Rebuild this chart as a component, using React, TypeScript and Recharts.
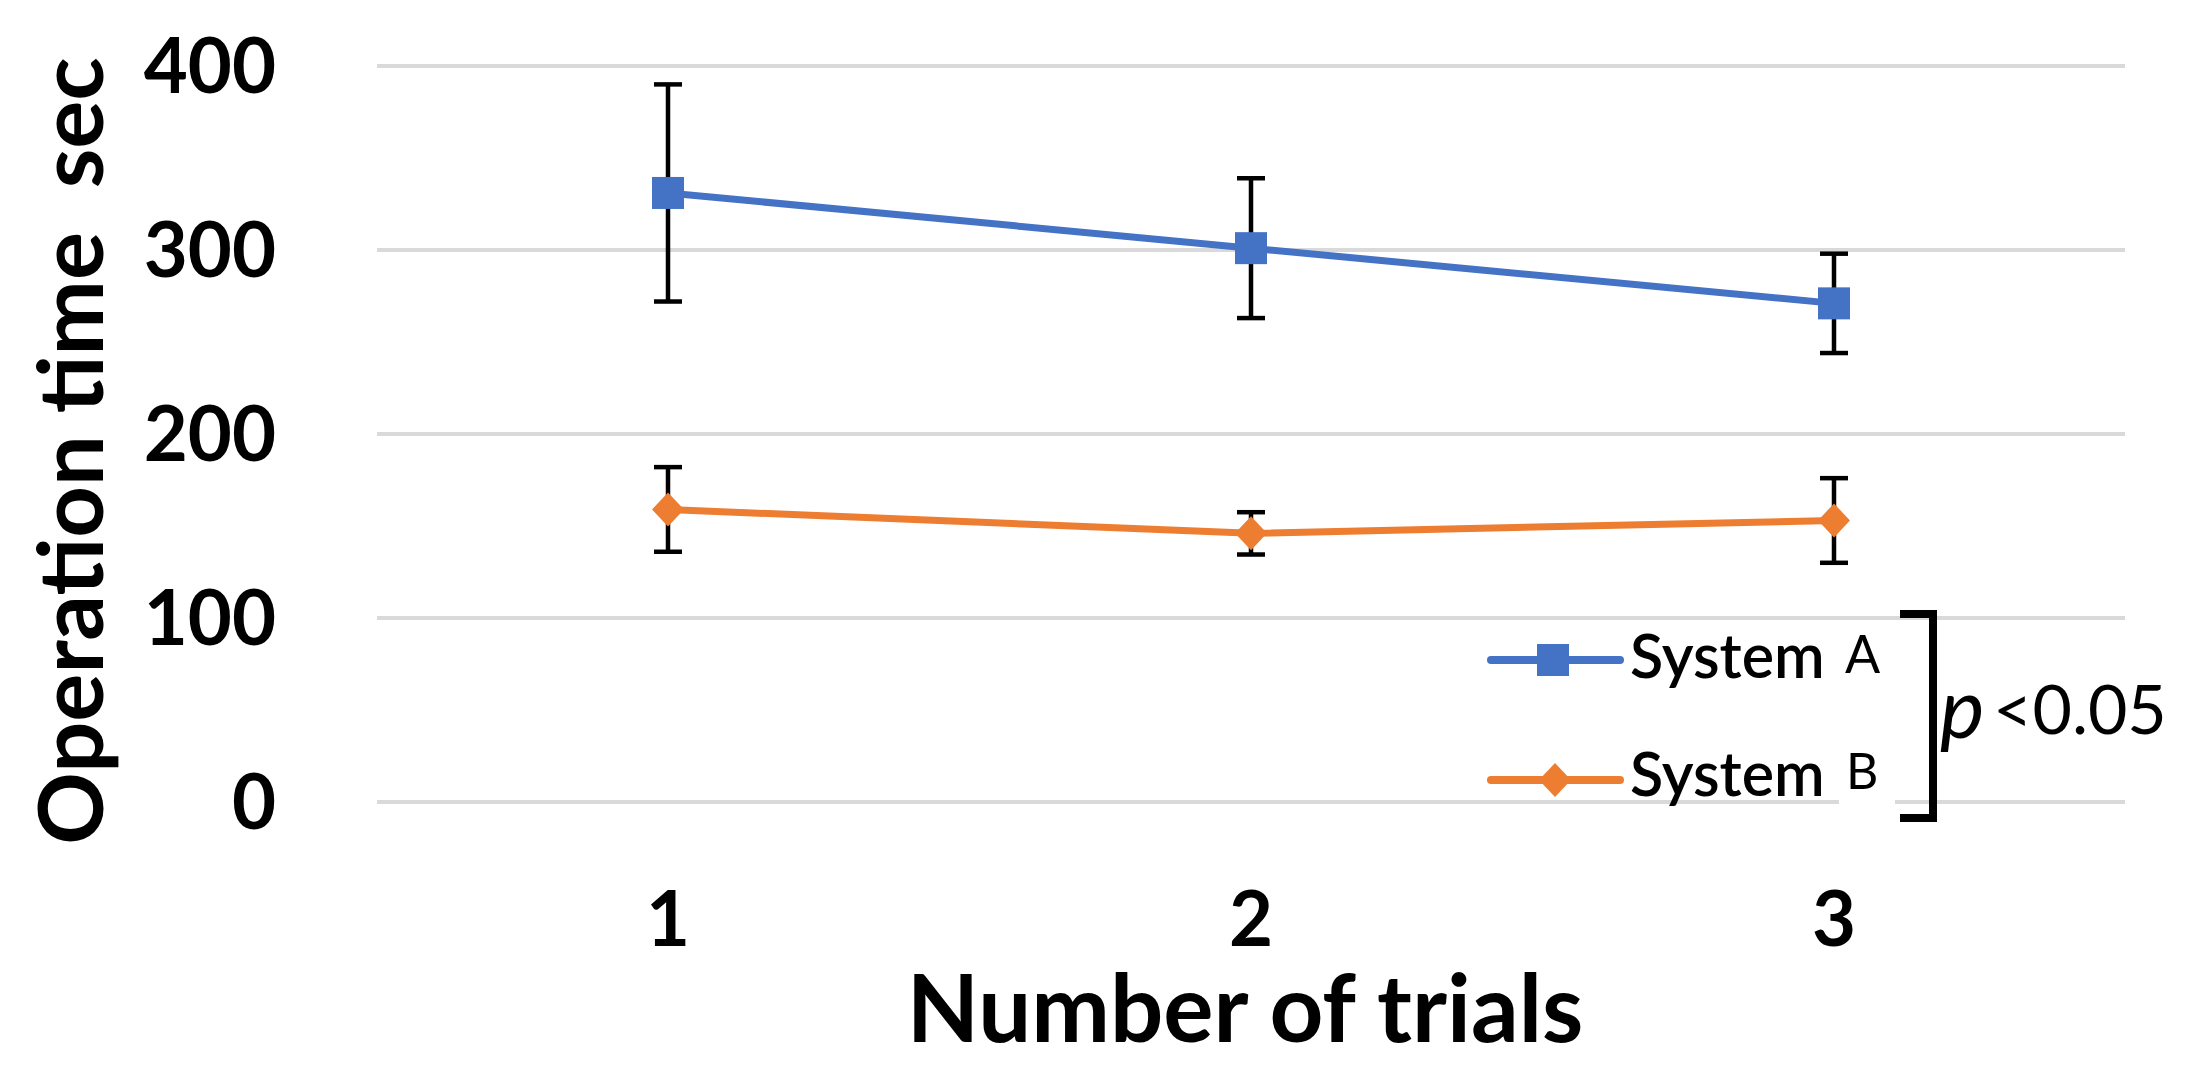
import React from 'react';
import { LineChart, Line, XAxis, YAxis, CartesianGrid, ErrorBar, Legend, Label } from 'recharts';

const trials = ['1', '2', '3'];
const systemA = [331, 301, 271];
const systemAErr = [59, 38, 27];
const systemB = [159, 146, 153];
const systemBErr = [23, 11.5, 23];
const yTicks = [0, 100, 200, 300, 400];

const BLUE = '#4472C4';
const ORANGE = '#ED7D31';
const FONT = 'Lato, "Open Sans", sans-serif';

const data = trials.map((t, i) => ({
  trial: t,
  a: systemA[i],
  aErr: systemAErr[i],
  b: systemB[i],
  bErr: systemBErr[i],
}));

const SquareDot = (props: any) => {
  const { cx, cy, index } = props;
  if (cx == null || cy == null) return null;
  return <rect key={`sq-${index}`} x={cx - 16} y={cy - 16} width={32} height={32} fill={BLUE} />;
};

const DiamondDot = (props: any) => {
  const { cx, cy, index } = props;
  if (cx == null || cy == null) return null;
  return (
    <polygon
      key={`dm-${index}`}
      points={`${cx},${cy - 17} ${cx + 16},${cy} ${cx},${cy + 17} ${cx - 16},${cy}`}
      fill={ORANGE}
    />
  );
};

// legend plus the significance bracket, drawn in one overlay
const LegendBox = () => (
  <svg width={720} height={240} style={{ overflow: 'visible', display: 'block' }}>
    <rect x={369} y={165} width={56} height={50} fill="#fff" />
    <line x1={21} y1={60} x2={150} y2={60} stroke={BLUE} strokeWidth={8} strokeLinecap="round" />
    <rect x={67} y={44} width={32} height={32} fill={BLUE} />
    <text x={160} y={78} fontFamily={FONT} fontSize={61} fontWeight={600} fill="#000">System</text>
    <text x={375} y={73} fontFamily={FONT} fontSize={52} fill="#000">A</text>

    <line x1={21} y1={180} x2={150} y2={180} stroke={ORANGE} strokeWidth={8} strokeLinecap="round" />
    <polygon points="85,163 101,180 85,197 69,180" fill={ORANGE} />
    <text x={160} y={196} fontFamily={FONT} fontSize={61} fontWeight={600} fill="#000">System</text>
    <text x={376} y={189} fontFamily={FONT} fontSize={50} fill="#000">B</text>

    <path d="M 430 14 H 463 V 218 H 430" fill="none" stroke="#000" strokeWidth={8} />
    <text x={470} y={138} fontFamily={FONT} fontSize={84} fontStyle="italic" fill="#000">p</text>
    <text x={523} y={134} fontFamily={FONT} fontSize={68} fill="#000">&lt;0.05</text>
  </svg>
);

const YTitle = (props: any) => {
  const vb = props.viewBox;
  const x = vb.x + 68;
  const y = vb.y + vb.height / 2 + 17;
  return (
    <text
      x={x}
      y={y}
      transform={`rotate(-90, ${x}, ${y})`}
      textAnchor="middle"
      dominantBaseline="central"
      fontFamily={FONT}
      fontWeight={700}
      fontSize={90}
      fill="#000"
      style={{ whiteSpace: 'pre' }}
    >
      {'Operation time  sec'}
    </text>
  );
};

const XTitle = (props: any) => {
  const vb = props.viewBox;
  return (
    <text
      x={vb.x + vb.width / 2 - 6}
      y={1042}
      textAnchor="middle"
      fontFamily={FONT}
      fontWeight={700}
      fontSize={94}
      fill="#000"
    >
      Number of trials
    </text>
  );
};

export default function App() {
  return (
    <div style={{ position: 'absolute', left: 0, top: 0, width: 2192, height: 1079, background: '#fff' }}>
      <LineChart width={2192} height={1079} data={data} margin={{ top: 66, right: 67, left: 0, bottom: 0 }}>
        <CartesianGrid vertical={false} stroke="#d9d9d9" strokeWidth={4} />
        <XAxis
          dataKey="trial"
          height={277}
          padding={{ left: 291, right: 291 }}
          axisLine={false}
          tickLine={false}
          tickSize={0}
          tickMargin={90}
          tick={{ fill: '#000', fontSize: 76, fontWeight: 700, fontFamily: FONT }}
        >
          <Label content={XTitle} />
        </XAxis>
        <YAxis
          width={377}
          domain={[0, 400]}
          ticks={yTicks}
          axisLine={false}
          tickLine={false}
          tickSize={0}
          tickMargin={101}
          tick={{ fill: '#000', fontSize: 76, fontWeight: 700, fontFamily: FONT }}
        >
          <Label content={YTitle} />
        </YAxis>
        <Line
          dataKey="a"
          name="System A"
          stroke={BLUE}
          strokeWidth={7}
          dot={SquareDot}
          activeDot={false}
          isAnimationActive={false}
        >
          <ErrorBar dataKey="aErr" direction="y" width={14} stroke="#000" strokeWidth={4.5} />
        </Line>
        <Line
          dataKey="b"
          name="System B"
          stroke={ORANGE}
          strokeWidth={7}
          dot={DiamondDot}
          activeDot={false}
          isAnimationActive={false}
        >
          <ErrorBar dataKey="bErr" direction="y" width={14} stroke="#000" strokeWidth={4.5} />
        </Line>
        <Legend
          layout="horizontal"
          verticalAlign="middle"
          align="center"
          content={LegendBox}
          wrapperStyle={{ position: 'absolute', left: 1470, top: 600, width: 720, height: 240 }}
        />
      </LineChart>
    </div>
  );
}
